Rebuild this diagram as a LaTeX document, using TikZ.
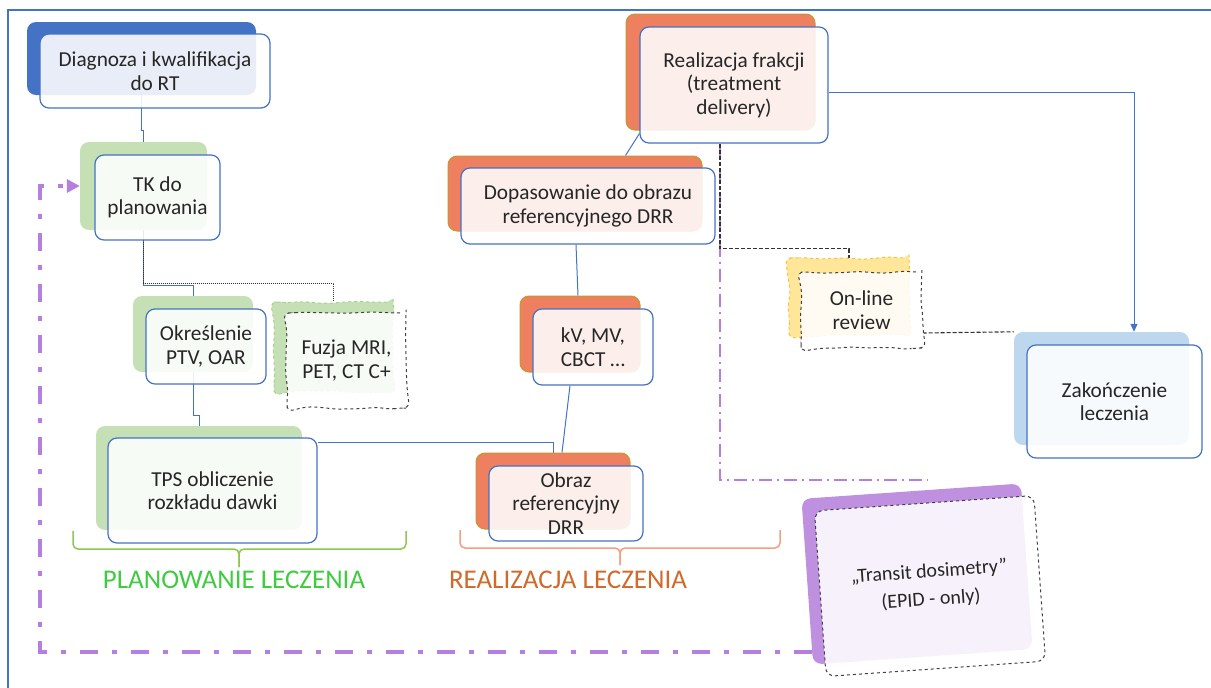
\documentclass[tikz,border=0pt]{standalone}
\usepackage{fontspec}
\setmainfont{Carlito}
\usepackage{xcolor}
\usetikzlibrary{calc,arrows.meta,decorations.pathmorphing,backgrounds}

\definecolor{frameblue}{HTML}{4472C4}
\definecolor{diagback}{HTML}{4472C4}
\definecolor{planback}{HTML}{C5E0B4}
\definecolor{planedge}{HTML}{A9D18E}
\definecolor{realback}{HTML}{EE7F5F}
\definecolor{realedge}{HTML}{C49A2B}
\definecolor{endback}{HTML}{BDD7EE}
\definecolor{onlback}{HTML}{FFE699}
\definecolor{onledge}{HTML}{F2C14E}
\definecolor{trback}{HTML}{BF8FE0}
\definecolor{loopviolet}{HTML}{B47FDE}
\definecolor{plantext}{HTML}{3FCB3F}
\definecolor{planbrace}{HTML}{8CC850}
\definecolor{realtext}{HTML}{D0692A}
\definecolor{realbrace}{HTML}{F4A080}

\pgfmathsetseed{7}

\begin{document}
\begin{tikzpicture}[x=1pt,y=-1pt,
  txt/.style={font=\fontsize{21.3}{23.5}\selectfont, align=center, text=black!85},
  backbox/.style={rounded corners=9pt, inner sep=0pt},
  frontbox/.style={draw=frameblue, line width=1.2pt, rounded corners=9pt, fill=white,
                   fill opacity=.88, text opacity=1, inner sep=0pt, txt},
  wavy/.style={decorate, decoration={random steps, segment length=14pt, amplitude=1.4pt}, rounded corners=6pt},
  conn/.style={draw=frameblue, line width=1pt},
  dotconn/.style={draw=black!80, line width=1pt, densely dotted},
  dashconn/.style={draw=black!80, line width=1.1pt, dash pattern=on 4pt off 2pt},
  tdline/.style={draw=loopviolet, line width=1.5pt, dash pattern=on 13pt off 5pt on 2pt off 5pt},
  loopline/.style={draw=loopviolet, line width=4pt, dash pattern=on 18pt off 14pt on 5pt off 14pt}]

  \useasboundingbox (0,0) rectangle (1211,688);

  % Outer frame (runs off the page on the right and bottom)
  \draw[frameblue, line width=1.5pt] (1211,10) -- (8,10) -- (8,688);

  % Back (shadow) boxes
  \node[backbox, fill=diagback, minimum width=229pt, minimum height=73pt] (diagB) at (141.5,58.5) {};
  \node[backbox, fill=planback, minimum width=127pt, minimum height=88pt] (tkB) at (143.5,186) {};
  \node[backbox, fill=planback, minimum width=120pt, minimum height=76pt] (okrB) at (193,334) {};
  \node[backbox, fill=planback, draw=planedge, dashed, line width=1pt, wavy,
        minimum width=119pt, minimum height=90pt] (fuzB) at (333.5,347) {};
  \node[backbox, fill=planback, minimum width=206pt, minimum height=104pt] (tpsB) at (199,478) {};
  \node[backbox, fill=realback, draw=realedge, line width=1pt, minimum width=189pt, minimum height=116pt] (realB) at (720.5,72) {};
  \node[backbox, fill=realback, draw=realedge, line width=1pt, minimum width=254pt, minimum height=75pt] (dopB) at (575,193.5) {};
  \node[backbox, fill=realback, draw=realedge, line width=1pt, minimum width=120pt, minimum height=76pt] (kvB) at (580,334) {};
  \node[backbox, fill=realback, draw=realedge, line width=1pt, minimum width=154pt, minimum height=76pt] (obrB) at (553,491) {};
  \node[backbox, fill=onlback, draw=onledge, dashed, line width=1pt, wavy,
        minimum width=120pt, minimum height=77pt] (onlB) at (849,296.5) {};
  \node[backbox, fill=endback, minimum width=175pt, minimum height=113pt] (zakB) at (1101.5,388.5) {};
  \node[backbox, fill=trback, rotate=4, minimum width=220pt, minimum height=166pt] (trB) at (917,574) {};

  % Front boxes
  \node[frontbox, minimum width=230pt, minimum height=74pt] (diagF) at (155,71) {Diagnoza i kwalifikacja\\do RT};
  \node[frontbox, minimum width=125pt, minimum height=85pt] (tkF) at (157.5,197.5) {TK do\\planowania};
  \node[frontbox, minimum width=120pt, minimum height=75pt] (okrF) at (206,346.5) {Określenie\\PTV, OAR};
  \node[frontbox, draw=black!75, line width=1pt, dashed, wavy,
        minimum width=119pt, minimum height=95pt] (fuzF) at (346.5,360.5) {Fuzja MRI,\\PET, CT C+};
  \node[frontbox, minimum width=209pt, minimum height=105pt] (tpsF) at (212.5,490.5) {TPS obliczenie\\rozkładu dawki};
  \node[frontbox, minimum width=188pt, minimum height=116pt] (realF) at (734,85) {Realizacja frakcji\\(treatment\\delivery)};
  \node[frontbox, minimum width=254pt, minimum height=76pt] (dopF) at (588,206) {Dopasowanie do obrazu\\referencyjnego DRR};
  \node[frontbox, minimum width=120pt, minimum height=76pt] (kvF) at (593,347) {kV, MV,\\CBCT \dots};
  \node[frontbox, minimum width=154pt, minimum height=75pt] (obrF) at (566,503.5) {Obraz\\referencyjny\\DRR};
  \node[frontbox, draw=black!75, line width=1pt, dashed, wavy,
        minimum width=121pt, minimum height=76pt] (onlF) at (861.5,310) {On-line\\review};
  \node[frontbox, minimum width=175pt, minimum height=113pt] (zakF) at (1114.5,401.5) {Zakończenie\\leczenia};
  \node[frontbox, draw=black!75, line width=1pt, dashed, rotate=4, font=\fontsize{20}{28}\selectfont,
        minimum width=220pt, minimum height=166pt] (trF) at (930,586) {„Transit dosimetry”\\(EPID - only)};

  % Braces and phase labels
  \draw[planbrace, line width=1.5pt, rounded corners=5pt] (73,531) |- (239,549) -- (239,567);
  \draw[planbrace, line width=1.5pt, rounded corners=5pt] (406,531) |- (239,549) -- (239,567);
  \draw[realbrace, line width=1.5pt, rounded corners=5pt] (460,530) |- (620,548) -- (620,565);
  \draw[realbrace, line width=1.5pt, rounded corners=5pt] (780,530) |- (620,548) -- (620,565);
  \node[font=\fontsize{27}{30}\selectfont, text=plantext] (planLbl) at (234,580) {PLANOWANIE LECZENIA};
  \node[font=\fontsize{27}{30}\selectfont, text=realtext] (realLbl) at (568,580) {REALIZACJA LECZENIA};

  % Connectors
  \coordinate (tdEnd) at (927,480);
  \coordinate (loopStart) at (812,652);
  \begin{scope}[on background layer]
    \draw[conn] (diagB.south) -- ++(0,35) -| (tkB.north);
    \draw[conn] (tkB.south) -- ++(0,55) -| (okrB.north);
    \draw[dotconn] (tkB.south) -- ++(0,53) -| (fuzB.north);
    \draw[conn] (okrB.south) -- ++(0,43) -| (tpsB.north);
    \draw[conn] ([yshift=-5pt]tpsF.north east) -| (obrB.north);
    \draw[conn] ($(realF.south west)+(0,-10)$) -- ($(dopB.north west)+(178,0)$);
    \draw[conn] ([xshift=-12pt]dopF.south) -- ([xshift=-2pt]kvB.north);
    \draw[conn] ([xshift=-23pt]kvF.south) -- ([xshift=9pt]obrB.north);
    \draw[conn, -{Triangle[length=8pt,width=7pt]}] ([yshift=-7pt]realF.east) -| ([xshift=32.5pt]zakB.north);
    \draw[tdline] ([xshift=-14pt]realF.south) |- (tdEnd);
    \draw[dashconn] ([xshift=-14pt]realF.south) -- ++(0,105) -| (onlB.north);
    \draw[dashconn] ([yshift=-23pt]onlF.east) -- (zakB.north west);
    \draw[loopline, -{Triangle[length=13pt,width=13pt]}] (loopStart) -- (40,652) |- (tkB.west);
  \end{scope}
\end{tikzpicture}
\end{document}
